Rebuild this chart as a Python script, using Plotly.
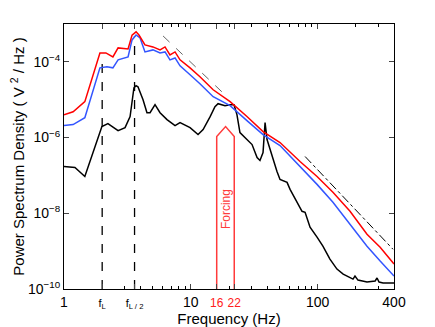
import plotly.graph_objects as go

# frequencies (Hz) and PSD values (V^2/Hz)
f_red = [1.00, 1.18, 1.46, 1.92, 2.14, 2.43, 2.67, 3.20, 3.44, 3.70, 3.90, 4.35, 5.03, 5.72, 6.26,
         6.85, 7.51, 8.22, 9.86, 11.8, 15.0, 20.4, 27.7, 37.1, 50.5, 72.6, 98.9, 132, 180, 245, 311, 400]
p_red = [4.0e-6, 4.8e-6, 8.9e-6, 1.72e-4, 1.72e-4, 1.35e-4, 2.34e-4, 2.2e-4, 5.1e-4, 6.2e-4, 5.1e-4,
         2.8e-4, 2.48e-4, 2.07e-4, 2.48e-4, 1.53e-4, 1.83e-4, 1.13e-4, 6.95e-5, 4.03e-5, 1.83e-5,
         8.9e-6, 3.6e-6, 1.44e-6, 7.4e-7, 2.34e-7, 9.4e-8, 3.6e-8, 1.13e-8, 2.8e-9, 1.27e-9, 4.6e-10]

f_blue = [1.00, 1.18, 1.46, 1.92, 2.18, 2.43, 2.67, 3.20, 3.44, 3.70, 3.98, 4.35, 5.03, 5.72, 6.26,
          6.85, 7.51, 8.22, 9.86, 11.8, 15.0, 20.4, 27.7, 37.1, 50.5, 72.6, 98.9, 132, 180, 245, 311, 400]
p_blue = [2.07e-6, 2.2e-6, 3.36e-6, 6.95e-5, 7.38e-5, 6.95e-5, 1.13e-4, 1.35e-4, 3.79e-4, 5.13e-4,
          4.28e-4, 1.83e-4, 2.07e-4, 1.72e-4, 1.83e-4, 1.13e-4, 1.27e-4, 7.85e-5, 4.55e-5, 2.64e-5,
          1.20e-5, 6.95e-6, 2.80e-6, 1.20e-6, 6.16e-7, 1.72e-7, 5.80e-8, 1.95e-8, 5.14e-9, 1.35e-9,
          5.46e-10, 2.2e-10]

f_black = [1.00, 1.22, 1.46, 1.99, 2.22, 2.67, 3.03, 3.32, 3.56, 3.70, 3.83, 4.20, 4.51, 4.77, 5.22,
           5.72, 6.49, 7.51, 8.22, 9.86, 11.4, 12.5, 14.2, 15.5, 16.4, 18.6, 20.4, 21.9, 23.1, 24.4,
           27.7, 30.4, 33.3, 35.1, 37.1, 38.5, 39.9, 43.7, 47.8, 50.5, 57.4, 60.6, 68.8, 75.3, 79.6,
           87.1, 98.9, 110, 125, 142, 159, 190, 197, 208, 245, 284, 294, 305, 328, 400]
p_black = [1.72e-7, 1.63e-7, 9.4e-8, 1.95e-6, 2.34e-6, 1.53e-6, 1.83e-6, 3.57e-6, 2.07e-5, 2.34e-5,
           2.20e-5, 1.0e-5, 4.55e-6, 4.55e-6, 7.38e-6, 4.55e-6, 2.98e-6, 2.07e-6, 2.48e-6, 1.83e-6,
           1.20e-6, 1.63e-6, 3.57e-6, 6.54e-6, 7.85e-6, 6.95e-6, 7.38e-6, 7.38e-6, 4.03e-6, 1.35e-6,
           8.86e-7, 6.54e-7, 2.98e-7, 2.48e-7, 4.03e-7, 2.48e-6, 8.86e-7, 3.16e-7, 1.27e-7, 7.85e-8,
           6.54e-8, 4.28e-8, 1.95e-8, 1.13e-8, 1.06e-8, 4.28e-9, 2.34e-9, 1.35e-9, 6.16e-10, 3.36e-10,
           2.48e-10, 1.83e-10, 2.20e-10, 1.72e-10, 1.53e-10, 1.63e-10, 1.95e-10, 1.53e-10, 1.44e-10,
           1.44e-10]

# characteristic frequencies
f_L = 2.0
f_L2 = 3.6
f_force = [16, 22]
f_tip = 18.8
p_shoulder = 1.07e-6
p_tip = 1.95e-6

# reference slopes
f_ref1 = [6.04, 19.3]
p_ref1 = [4.83e-4, 1.2e-5]
f_ref2 = [79.6, 393]
p_ref2 = [3.16e-7, 1.12e-9]

fig = go.Figure()

fig.add_trace(go.Scatter(x=[f_L, f_L], y=[1e-10, 1e-4], mode="lines",
                         line=dict(color="black", width=1.3, dash="dash")))
fig.add_trace(go.Scatter(x=[f_L2, f_L2], y=[1e-10, 4.8e-4], mode="lines",
                         line=dict(color="black", width=1.3, dash="dash")))
fig.add_trace(go.Scatter(x=f_ref1, y=p_ref1, mode="lines",
                         line=dict(color="#666666", width=1, dash="dash")))
fig.add_trace(go.Scatter(x=f_ref2, y=p_ref2, mode="lines",
                         line=dict(color="black", width=1, dash="dashdot")))

# forcing arrow
fig.add_trace(go.Scatter(
    x=[f_force[0], f_force[0], f_tip, f_force[1], f_force[1]],
    y=[1e-10, p_shoulder, p_tip, p_shoulder, 1e-10],
    mode="lines", line=dict(color="#ff3b3b", width=1.5)))

fig.add_trace(go.Scatter(x=f_black, y=p_black, mode="lines", line=dict(color="black", width=1.5)))
fig.add_trace(go.Scatter(x=f_blue, y=p_blue, mode="lines", line=dict(color="#3355ff", width=1.5)))
fig.add_trace(go.Scatter(x=f_red, y=p_red, mode="lines", line=dict(color="red", width=1.5)))

fig.add_annotation(x=1.2742, y=-7.9, xref="x", yref="y", text="Forcing", textangle=-90,
                   showarrow=False, font=dict(color="#ff3b3b", size=12))

small = "<span style='font-size:11px'>%s</span>"
red = "<span style='font-size:12px;color:#ff2020'>%s</span>"
xticktext = ["1", small % "f<sub>L</sub>", small % "f<sub>L / 2</sub>", "10",
             red % "16", red % "22", "100", "400"]

fig.update_xaxes(
    type="log", range=[0, 2.60206], automargin=False,
    tickvals=[1, f_L, f_L2, 10, 16, 22, 100, 400], ticktext=xticktext,
    ticks="inside", ticklen=5, showgrid=False, zeroline=False,
    showline=True, linecolor="black", linewidth=1, mirror="ticks",
    minor=dict(ticks="inside", ticklen=3, tickvals=[3, 4, 5, 6, 7, 8, 9, 20, 30, 40, 50, 60, 70, 80, 90, 200, 300],
               tickcolor="black", showgrid=False),
    title=dict(text="Frequency (Hz)", standoff=1, font=dict(size=15)),
    tickfont=dict(size=14, color="black"),
)
fig.update_yaxes(
    type="log", range=[-10, -3], automargin=False,
    tickvals=[1e-10, 1e-8, 1e-6, 1e-4],
    ticktext=["10<sup>\u221210</sup>", "10<sup>\u22128</sup>", "10<sup>\u22126</sup>", "10<sup>\u22124</sup>"],
    ticks="inside", ticklen=5, showgrid=False, zeroline=False,
    showline=True, linecolor="black", linewidth=1, mirror="ticks",
    title=dict(text="Power Spectrum Density ( V <sup>2</sup> / Hz )", standoff=6, font=dict(size=15)),
    tickfont=dict(size=14, color="black"),
)
# the page body adds an 8 px offset, so the figure is 8 px smaller
fig.update_layout(
    width=427, height=319, showlegend=False,
    margin=dict(l=56, r=41, t=16, b=38),
    plot_bgcolor="white", paper_bgcolor="white",
    font=dict(family="Liberation Sans, Arial, sans-serif", color="black"),
)

fig.write_html("out.html")
